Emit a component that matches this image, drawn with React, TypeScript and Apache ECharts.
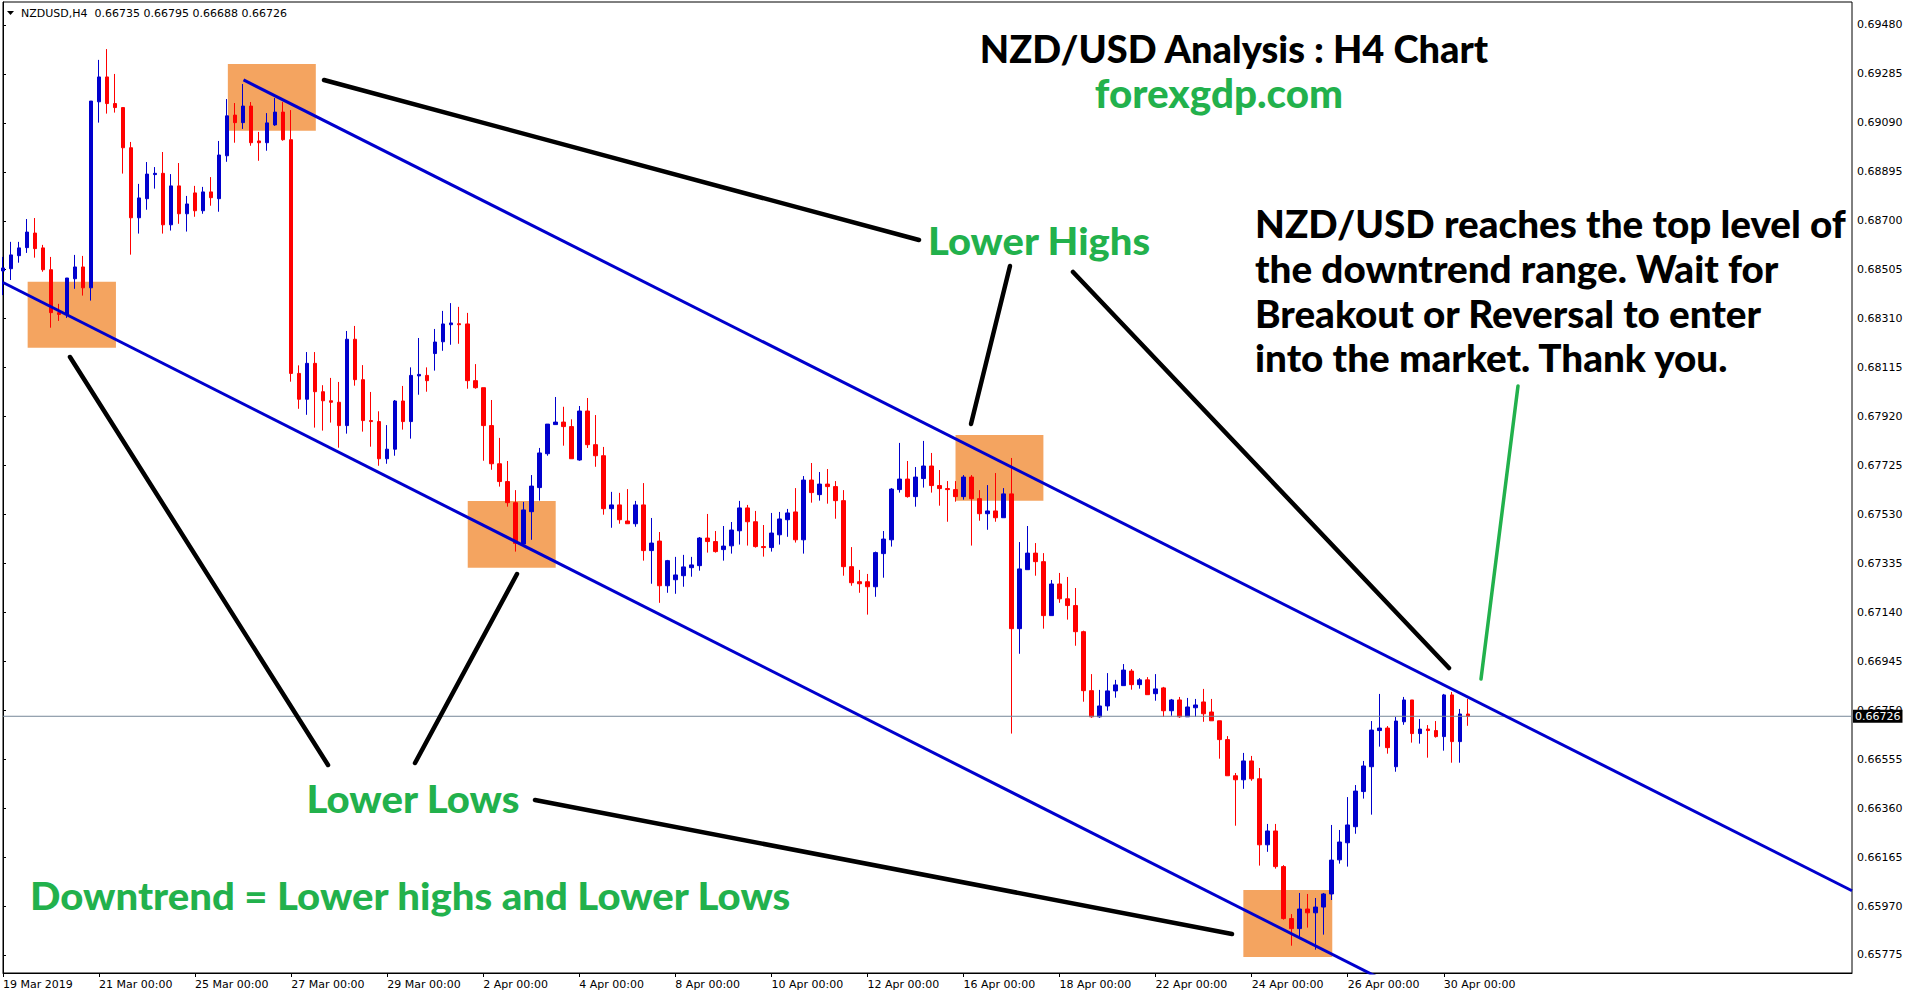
import React, { useEffect, useRef } from 'react';
import * as echarts from 'echarts';

const tradingDays = ['19 Mar', '20 Mar', '21 Mar', '22 Mar', '25 Mar', '26 Mar', '27 Mar', '28 Mar', '29 Mar', '1 Apr', '2 Apr', '3 Apr', '4 Apr', '5 Apr', '8 Apr', '9 Apr', '10 Apr', '11 Apr', '12 Apr', '15 Apr', '16 Apr', '17 Apr', '18 Apr', '19 Apr', '22 Apr', '23 Apr', '24 Apr', '25 Apr', '26 Apr', '29 Apr', '30 Apr'];
const sessionHours = ['00:00', '04:00', '08:00', '12:00', '16:00', '20:00'];
const firstLabel = '19 Mar 2019';
const axisSlots = 232;

const opens = [
  0.68500, 0.68509, 0.68561, 0.68593, 0.68651, 0.68592, 0.68505, 0.68334, 0.68327, 0.68469,
  0.68516, 0.68433, 0.69174, 0.69273, 0.69167, 0.69151, 0.68991, 0.68712, 0.68788, 0.68884,
  0.68889, 0.68684, 0.68839, 0.68728, 0.68811, 0.68740, 0.68815, 0.68788, 0.68959, 0.69121,
  0.69091, 0.69157, 0.69018, 0.69011, 0.69082, 0.69133, 0.69023, 0.68092, 0.67989, 0.68132,
  0.68019, 0.67983, 0.67977, 0.67884, 0.68228, 0.68067, 0.67904, 0.67900, 0.67752, 0.67790,
  0.67982, 0.67900, 0.68082, 0.68084, 0.68171, 0.68218, 0.68286, 0.68290, 0.68289, 0.68063,
  0.68035, 0.67884, 0.67732, 0.67661, 0.67577, 0.67412, 0.67541, 0.67637, 0.67772, 0.67888,
  0.67898, 0.67880, 0.67747, 0.67942, 0.67808, 0.67764, 0.67553, 0.67568, 0.67504, 0.67493,
  0.67568, 0.67386, 0.67424, 0.67246, 0.67270, 0.67286, 0.67318, 0.67326, 0.67436, 0.67422,
  0.67390, 0.67405, 0.67465, 0.67556, 0.67501, 0.67402, 0.67398, 0.67449, 0.67509, 0.67540,
  0.67429, 0.67667, 0.67609, 0.67651, 0.67641, 0.67585, 0.67322, 0.67262, 0.67262, 0.67242,
  0.67374, 0.67429, 0.67629, 0.67671, 0.67601, 0.67673, 0.67723, 0.67645, 0.67633, 0.67629,
  0.67601, 0.67679, 0.67593, 0.67533, 0.67544, 0.67517, 0.67612, 0.67075, 0.67310, 0.67376,
  0.67342, 0.67127, 0.67253, 0.67194, 0.67167, 0.67063, 0.66828, 0.66724, 0.66767, 0.66827,
  0.66848, 0.66906, 0.66852, 0.66871, 0.66816, 0.66839, 0.66748, 0.66791, 0.66724, 0.66760,
  0.66783, 0.66743, 0.66708, 0.66633, 0.66489, 0.66473, 0.66548, 0.66477, 0.66214, 0.66269,
  0.66127, 0.65920, 0.65880, 0.65958, 0.65943, 0.65966, 0.66018, 0.66154, 0.66222, 0.66286,
  0.66426, 0.66525, 0.66669, 0.66679, 0.66525, 0.66704, 0.66791, 0.66657, 0.66675, 0.66669,
  0.66645, 0.66811, 0.66625, 0.66735
];
const highs = [
  0.68556, 0.68616, 0.68616, 0.68707, 0.68711, 0.68604, 0.68556, 0.68369, 0.68472, 0.68564,
  0.68560, 0.69177, 0.69341, 0.69384, 0.69285, 0.69151, 0.69014, 0.68847, 0.68934, 0.68914,
  0.68974, 0.68886, 0.68930, 0.68799, 0.68839, 0.68835, 0.68874, 0.69018, 0.69185, 0.69169,
  0.69245, 0.69173, 0.69054, 0.69129, 0.69189, 0.69173, 0.69141, 0.68124, 0.68177, 0.68177,
  0.68045, 0.68074, 0.68058, 0.68261, 0.68281, 0.68125, 0.68018, 0.67941, 0.67886, 0.67986,
  0.68042, 0.68116, 0.68233, 0.68116, 0.68269, 0.68341, 0.68372, 0.68357, 0.68333, 0.68129,
  0.68035, 0.67986, 0.67835, 0.67743, 0.67627, 0.67580, 0.67687, 0.67795, 0.67890, 0.67998,
  0.67959, 0.67909, 0.67962, 0.67994, 0.67926, 0.67799, 0.67620, 0.67616, 0.67631, 0.67584,
  0.67655, 0.67516, 0.67460, 0.67349, 0.67361, 0.67369, 0.67361, 0.67440, 0.67532, 0.67464,
  0.67484, 0.67500, 0.67584, 0.67568, 0.67544, 0.67488, 0.67536, 0.67540, 0.67552, 0.67635,
  0.67683, 0.67735, 0.67699, 0.67711, 0.67663, 0.67627, 0.67400, 0.67309, 0.67293, 0.67382,
  0.67464, 0.67635, 0.67815, 0.67743, 0.67719, 0.67823, 0.67775, 0.67707, 0.67663, 0.67663,
  0.67687, 0.67687, 0.67627, 0.67647, 0.67695, 0.67635, 0.67755, 0.67420, 0.67484, 0.67416,
  0.67376, 0.67269, 0.67297, 0.67281, 0.67237, 0.67067, 0.66894, 0.66831, 0.66898, 0.66871,
  0.66934, 0.66914, 0.66878, 0.66882, 0.66894, 0.66843, 0.66795, 0.66803, 0.66799, 0.66795,
  0.66835, 0.66795, 0.66708, 0.66647, 0.66500, 0.66580, 0.66568, 0.66520, 0.66297, 0.66297,
  0.66133, 0.65938, 0.66022, 0.66018, 0.66002, 0.66022, 0.66293, 0.66273, 0.66404, 0.66452,
  0.66548, 0.66707, 0.66815, 0.66687, 0.66723, 0.66803, 0.66791, 0.66715, 0.66691, 0.66707,
  0.66815, 0.66823, 0.66755, 0.66795
];
const lows = [
  0.68404, 0.68464, 0.68533, 0.68572, 0.68553, 0.68497, 0.68274, 0.68301, 0.68313, 0.68429,
  0.68402, 0.68382, 0.69091, 0.69127, 0.69131, 0.68888, 0.68565, 0.68649, 0.68744, 0.68828,
  0.68649, 0.68661, 0.68688, 0.68657, 0.68716, 0.68728, 0.68760, 0.68736, 0.68935, 0.69011,
  0.69066, 0.68999, 0.68939, 0.68979, 0.69078, 0.69019, 0.68059, 0.67951, 0.67927, 0.67876,
  0.67864, 0.67896, 0.67796, 0.67852, 0.68043, 0.67860, 0.67800, 0.67724, 0.67732, 0.67764,
  0.67868, 0.67832, 0.68007, 0.68019, 0.68103, 0.68182, 0.68206, 0.68210, 0.68031, 0.68031,
  0.67744, 0.67708, 0.67641, 0.67561, 0.67382, 0.67406, 0.67429, 0.67585, 0.67764, 0.67888,
  0.67804, 0.67752, 0.67744, 0.67795, 0.67720, 0.67529, 0.67477, 0.67493, 0.67493, 0.67481,
  0.67346, 0.67254, 0.67178, 0.67218, 0.67214, 0.67242, 0.67282, 0.67306, 0.67378, 0.67378,
  0.67346, 0.67374, 0.67410, 0.67406, 0.67398, 0.67362, 0.67382, 0.67410, 0.67441, 0.67418,
  0.67374, 0.67577, 0.67585, 0.67573, 0.67513, 0.67286, 0.67246, 0.67218, 0.67131, 0.67202,
  0.67278, 0.67402, 0.67617, 0.67597, 0.67561, 0.67637, 0.67617, 0.67565, 0.67501, 0.67581,
  0.67589, 0.67406, 0.67505, 0.67469, 0.67501, 0.67517, 0.66657, 0.66975, 0.67310, 0.67286,
  0.67075, 0.67127, 0.67178, 0.67111, 0.67007, 0.66784, 0.66720, 0.66720, 0.66748, 0.66800,
  0.66848, 0.66832, 0.66836, 0.66812, 0.66788, 0.66724, 0.66728, 0.66720, 0.66724, 0.66724,
  0.66704, 0.66708, 0.66557, 0.66489, 0.66290, 0.66437, 0.66469, 0.66131, 0.66186, 0.66119,
  0.65916, 0.65812, 0.65844, 0.65884, 0.65796, 0.65856, 0.65994, 0.66139, 0.66127, 0.66258,
  0.66398, 0.66334, 0.66605, 0.66577, 0.66505, 0.66692, 0.66621, 0.66617, 0.66561, 0.66641,
  0.66589, 0.66541, 0.66541, 0.66688
];
const closes = [
  0.68512, 0.68564, 0.68592, 0.68655, 0.68589, 0.68505, 0.68334, 0.68327, 0.68472, 0.68516,
  0.68433, 0.69177, 0.69273, 0.69167, 0.69151, 0.68991, 0.68712, 0.68791, 0.68886, 0.68889,
  0.68684, 0.68839, 0.68728, 0.68767, 0.68740, 0.68815, 0.68792, 0.68962, 0.69118, 0.69091,
  0.69157, 0.69011, 0.69011, 0.69090, 0.69133, 0.69023, 0.68092, 0.67989, 0.68132, 0.68019,
  0.67983, 0.67977, 0.67884, 0.68228, 0.68067, 0.67904, 0.67900, 0.67752, 0.67790, 0.67982,
  0.67900, 0.68084, 0.68088, 0.68063, 0.68217, 0.68289, 0.68293, 0.68286, 0.68063, 0.68035,
  0.67884, 0.67732, 0.67661, 0.67577, 0.67415, 0.67548, 0.67643, 0.67775, 0.67890, 0.67898,
  0.67880, 0.67752, 0.67942, 0.67808, 0.67764, 0.67553, 0.67568, 0.67509, 0.67493, 0.67568,
  0.67386, 0.67416, 0.67246, 0.67346, 0.67289, 0.67321, 0.67329, 0.67436, 0.67422, 0.67382,
  0.67404, 0.67468, 0.67556, 0.67501, 0.67402, 0.67398, 0.67456, 0.67512, 0.67536, 0.67429,
  0.67667, 0.67617, 0.67651, 0.67641, 0.67585, 0.67322, 0.67258, 0.67254, 0.67242, 0.67378,
  0.67432, 0.67631, 0.67671, 0.67601, 0.67679, 0.67723, 0.67645, 0.67633, 0.67629, 0.67601,
  0.67679, 0.67593, 0.67533, 0.67544, 0.67517, 0.67612, 0.67075, 0.67313, 0.67376, 0.67342,
  0.67127, 0.67253, 0.67194, 0.67167, 0.67063, 0.66828, 0.66724, 0.66767, 0.66827, 0.66851,
  0.66910, 0.66852, 0.66871, 0.66812, 0.66835, 0.66748, 0.66791, 0.66724, 0.66763, 0.66771,
  0.66736, 0.66708, 0.66633, 0.66489, 0.66473, 0.66548, 0.66477, 0.66214, 0.66269, 0.66127,
  0.65920, 0.65880, 0.65958, 0.65943, 0.65966, 0.66018, 0.66153, 0.66225, 0.66293, 0.66428,
  0.66528, 0.66671, 0.66679, 0.66601, 0.66707, 0.66791, 0.66657, 0.66675, 0.66669, 0.66645,
  0.66811, 0.66625, 0.66735, 0.66726
];

const priceTicks = [0.69480, 0.69285, 0.69090, 0.68895, 0.68700, 0.68505, 0.68310, 0.68115, 0.67920, 0.67725,
  0.67530, 0.67335, 0.67140, 0.66945, 0.66750, 0.66555, 0.66360, 0.66165, 0.65970, 0.65775];
const priceMin = 0.657032;
const priceMax = 0.695716;
const lastPrice = 0.66726;
const headerText = 'NZDUSD,H4  0.66735 0.66795 0.66688 0.66726';

// channel lines: [candle index, price]
const upperChannel = [[30.05, 0.69261], [231, 0.66031]];
const lowerChannel = [[0, 0.68454], [172.06, 0.65681]];
// highlight zones: [fromIndex, topPrice, toIndex, bottomPrice]
const zones = [
  [3.08, 0.68457, 14.11, 0.68194],
  [28.09, 0.69325, 39.08, 0.69059],
  [58.06, 0.67584, 69.05, 0.67318],
  [119.0, 0.67847, 129.98, 0.67585],
  [154.96, 0.66034, 166.07, 0.65767]
];

const BLUE = '#0000CD';
const RED = '#FF0000';
const GREEN = '#22B14C';
const BIG_FONT = '900 38px Lato';

export default function App() {
  const ref = useRef<HTMLDivElement>(null);
  useEffect(() => {
    if (!ref.current) return;
    const chart = echarts.init(ref.current, null, { renderer: 'svg' });

    const categories: string[] = [];
    tradingDays.forEach((d) => sessionHours.forEach((h) => categories.push(d + ' ' + h)));
    const cats = categories.slice(0, opens.length);
    while (cats.length < axisSlots) cats.push('');

    const candles = opens.map((o, i) => [o, closes[i], lows[i], highs[i]]);

    const showTick = (index: number, value: string) => index % 12 === 0 && value !== '';

    const pointerLines = [
      { p: [324, 80, 919, 240], c: '#000', w: 4.5 },
      { p: [1010, 266, 971, 424], c: '#000', w: 4.5 },
      { p: [1073, 272, 1449, 668], c: '#000', w: 4.5 },
      { p: [70, 357, 328, 765], c: '#000', w: 4.5 },
      { p: [517, 574, 415, 763], c: '#000', w: 4.5 },
      { p: [535, 800, 1232, 934], c: '#000', w: 4.5 },
      { p: [1518, 386, 1481, 679], c: GREEN, w: 3.5 }
    ];

    const texts = [
      { t: 'NZD/USD Analysis : H4 Chart', x: 1234, y: 48, c: '#000', a: 'center', f: BIG_FONT, s: 1 },
      { t: 'forexgdp.com', x: 1219, y: 93, c: GREEN, a: 'center', f: '900 39px Lato', s: 1.035 },
      { t: 'Lower Highs', x: 1039, y: 240, c: GREEN, a: 'center', f: BIG_FONT, s: 1.05 },
      { t: 'Lower Lows', x: 413, y: 798, c: GREEN, a: 'center', f: BIG_FONT, s: 1.055 },
      { t: 'Downtrend = Lower highs and Lower Lows', x: 30, y: 895, c: GREEN, a: 'left', f: BIG_FONT, s: 1.055 },
      { t: 'NZD/USD reaches the top level of', x: 1255, y: 223, c: '#000', a: 'left', f: BIG_FONT, s: 1.017 },
      { t: 'the downtrend range. Wait for', x: 1255, y: 268, c: '#000', a: 'left', f: BIG_FONT, s: 1.017 },
      { t: 'Breakout or Reversal to enter', x: 1255, y: 313, c: '#000', a: 'left', f: BIG_FONT, s: 1.017 },
      { t: 'into the market. Thank you.', x: 1255, y: 357, c: '#000', a: 'left', f: BIG_FONT, s: 1.017 }
    ];

    const graphic: any[] = [];
    pointerLines.forEach((l) => {
      graphic.push({
        type: 'line', z: 20, silent: true,
        shape: { x1: l.p[0], y1: l.p[1], x2: l.p[2], y2: l.p[3] },
        style: { stroke: l.c, lineWidth: l.w, lineCap: 'round' }
      });
    });
    texts.forEach((t) => {
      graphic.push({
        type: 'text', z: 20, silent: true, x: t.x, y: t.y, scaleX: t.s, scaleY: 1,
        style: { text: t.t, fill: t.c, font: t.f, textAlign: t.a, textVerticalAlign: 'middle', align: t.a, verticalAlign: 'middle' }
      });
    });
    graphic.push({
      type: 'polygon', z: 20, silent: true,
      shape: { points: [[7, 11], [14, 11], [10.5, 15]] },
      style: { fill: '#000' }
    });
    graphic.push({
      type: 'text', z: 20, silent: true, x: 21, y: 13,
      style: { text: headerText, fill: '#000', font: '11px "DejaVu Sans"', textVerticalAlign: 'middle', verticalAlign: 'middle' }
    });

    chart.setOption({
      animation: false,
      backgroundColor: '#fff',
      grid: { left: 2, right: 64, top: 2, bottom: 25, show: true, borderColor: '#000', borderWidth: 1, backgroundColor: 'transparent' },
      xAxis: [
        {
          type: 'category',
          data: cats,
          boundaryGap: false,
          axisLine: { show: true, lineStyle: { color: '#000', width: 1 } },
          axisTick: { show: true, interval: showTick, length: 4, lineStyle: { color: '#000' } },
          axisLabel: {
            show: true, interval: showTick, align: 'left', margin: 6,
            color: '#000', fontSize: 11, fontFamily: 'DejaVu Sans',
            formatter: (v: string, i: number) => (i === 0 ? firstLabel : v)
          },
          splitLine: { show: false }
        },
        { type: 'value', min: 0, max: axisSlots - 1, show: false }
      ],
      yAxis: {
        type: 'value',
        position: 'right',
        min: priceMin,
        max: priceMax,
        scale: true,
        axisLine: { show: true, lineStyle: { color: '#000', width: 1 } },
        axisTick: { show: true, length: 3, customValues: priceTicks, lineStyle: { color: '#000' } },
        axisLabel: {
          show: true, customValues: priceTicks, margin: 5, color: '#000', fontSize: 11, fontFamily: 'DejaVu Sans',
          formatter: (v: number) => v.toFixed(5)
        },
        splitLine: { show: false }
      },
      graphic,
      series: [
        {
          type: 'line', xAxisIndex: 1, yAxisIndex: 0, z: 1, data: [], silent: true,
          markArea: {
            silent: true,
            itemStyle: { color: '#F4A460', opacity: 1 },
            data: zones.map((zn) => [{ coord: [zn[0], zn[1]] }, { coord: [zn[2], zn[3]] }])
          }
        },
        {
          type: 'candlestick',
          xAxisIndex: 0,
          yAxisIndex: 0,
          z: 2,
          barWidth: 4,
          data: candles,
          itemStyle: { color: BLUE, color0: RED, borderColor: BLUE, borderColor0: RED, borderWidth: 1 }
        },
        {
          type: 'line', xAxisIndex: 1, yAxisIndex: 0, z: 4, silent: true, symbol: 'none',
          lineStyle: { color: '#778899', width: 1 },
          data: [[0, lastPrice], [axisSlots - 1, lastPrice]],
          endLabel: {
            show: true, distance: 1,
            formatter: () => lastPrice.toFixed(5),
            backgroundColor: '#000', color: '#fff', fontSize: 11, fontFamily: 'DejaVu Sans', padding: [1, 2, 1, 2]
          }
        },
        {
          type: 'line', xAxisIndex: 1, yAxisIndex: 0, z: 5, silent: true, symbol: 'none',
          lineStyle: { color: BLUE, width: 3 }, data: upperChannel
        },
        {
          type: 'line', xAxisIndex: 1, yAxisIndex: 0, z: 5, silent: true, symbol: 'none',
          lineStyle: { color: BLUE, width: 3 }, data: lowerChannel
        }
      ]
    });

    return () => chart.dispose();
  }, []);

  return <div ref={ref} style={{ position: 'absolute', left: 0, top: 0, width: 1916, height: 998, background: '#fff' }} />;
}
